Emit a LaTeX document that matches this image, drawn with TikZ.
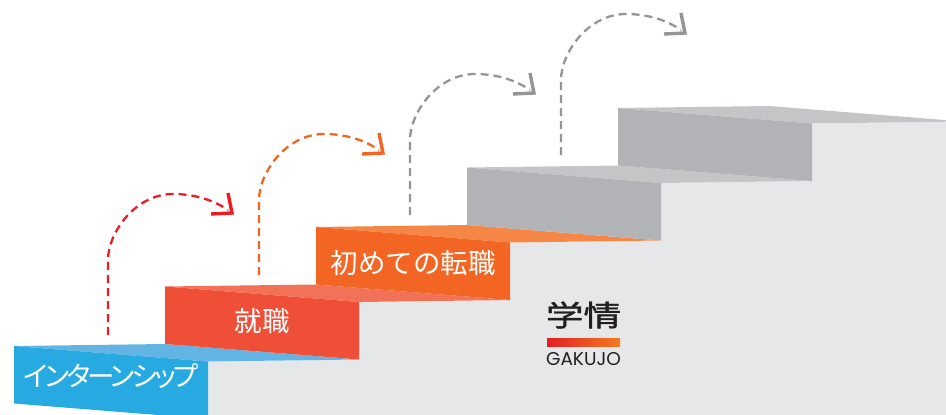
\documentclass[tikz,border=0pt]{standalone}
\usepackage{fontspec}
\newfontfamily\jpfont{Noto Sans CJK JP}
\newfontfamily\jpkana{Noto Sans CJK JP}[RawFeature=+palt, LetterSpace=-11]
\newfontfamily\jplogo{Noto Sans CJK JP}[FakeBold=1.2]
\newfontfamily\logofont{Poppins}
\usetikzlibrary{calc}

% step colours: riser face / tread face
\definecolor{blueRiser}{HTML}{27AAE1}
\definecolor{blueTread}{HTML}{62B4E4}
\definecolor{redRiser}{HTML}{EF4E37}
\definecolor{redTread}{HTML}{F17256}
\definecolor{orangeRiser}{HTML}{F26522}
\definecolor{orangeTread}{HTML}{F58646}
\definecolor{grayRiser}{HTML}{B1B3B6}
\definecolor{grayTread}{HTML}{C4C5C7}
\definecolor{wallGray}{HTML}{E6E7E8}
% arrow colours
\definecolor{arrowRed}{HTML}{ED1C24}
\definecolor{arrowOrange}{HTML}{F26522}
\definecolor{arrowGray}{HTML}{939598}
% logo colours
\definecolor{logoRed}{HTML}{E31E24}
\definecolor{logoOrange}{HTML}{F47B20}
\definecolor{logoInk}{HTML}{231F20}

\tikzset{
  stepLabel/.style={text=white, inner sep=0pt, font=\jpfont\fontsize{27.5}{27.5}\selectfont},
  kanaLabel/.style={stepLabel, font=\jpkana\fontsize{27.5}{27.5}\selectfont},
  hopLine/.style={line width=2.3pt, dash pattern=on 8pt off 5pt},
  hopTip/.style={line width=3.4pt, line cap=butt, line join=miter},
}

\begin{document}
\begin{tikzpicture}[x=1pt,y=-1pt]
\useasboundingbox (0,0) rectangle (946,415);
\clip (0,0) rectangle (946,415);

% side wall of the staircase
\fill[wallGray] (208,415) -- (208,361.5) -- (359,359.5) -- (359,302) -- (510,300)
  -- (510,242.5) -- (661,240.5) -- (661,183) -- (812,181) -- (812,123.5)
  -- (963,121.5) -- (963,415) -- cycle;

% treads and risers, one step at a time
\foreach \i/\rc/\tc in {0/blueRiser/blueTread, 1/redRiser/redTread,
    2/orangeRiser/orangeTread, 3/grayRiser/grayTread, 4/grayRiser/grayTread}{
  \pgfmathsetmacro\L{14+151*\i}
  \pgfmathsetmacro\T{346-59.5*\i}
  \fill[\tc] (\L,\T) -- ++(194,15.5) -- ++(151,-2) -- ++(-194,-15.5) -- cycle;
  \fill[\rc] (\L,\T) -- ++(194,15.5) -- ++(0,57.5) -- ++(-194,-15.5) -- cycle;
}

% step labels
\node[kanaLabel] (intern) at (111,376) {インターンシップ};
\node[stepLabel] (job) at (262,321) {就職};
\node[stepLabel] (change) at (413,263) {初めての転職};

% dashed hop arrows between steps
\foreach \i/\c in {0/arrowRed, 1/arrowOrange, 2/arrowGray, 3/arrowGray}{
  \pgfmathsetmacro\bx{108+151*\i}
  \pgfmathsetmacro\by{335-60*\i}
  \begin{scope}[shift={(\bx,\by)}]
    \coordinate (hop\i base) at (0,0);
    \coordinate (hop\i tip) at (124,-122);
    \draw[hopLine, \c] (hop\i base) -- (0,-75)
      .. controls (0,-102) and (27,-141) .. (65,-141)
      .. controls (88,-141) and (107,-134) .. (120,-125);
    \draw[hopTip, \c] ($(hop\i tip)+(-21,1)$) -- (hop\i tip) -- ($(hop\i tip)+(-4,-20)$);
  \end{scope}
}

% company logo
\node[inner sep=0pt, text=logoInk, xscale=1.3, font=\jplogo\fontsize{29}{29}\selectfont] (logo) at (583.5,315) {学情};
\fill[left color=logoRed, right color=logoOrange] (547,338) rectangle (620,346);
\node[inner sep=0pt, text=logoInk, font=\logofont\fontsize{18.5}{18.5}\selectfont] (gakujo) at (583.5,359) {GAKUJO};
\end{tikzpicture}
\end{document}
